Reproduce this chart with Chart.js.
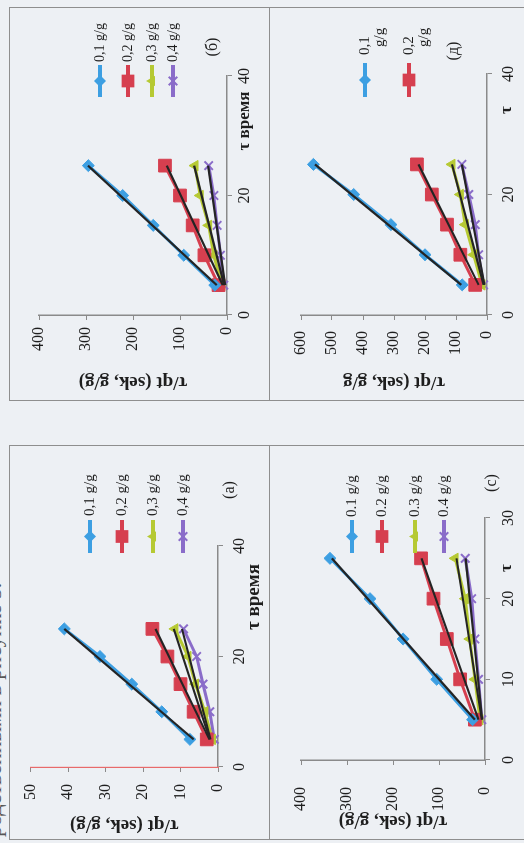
<!DOCTYPE html>
<html>
<head>
<meta charset="utf-8">
<script src="https://cdn.jsdelivr.net/npm/chart.js@4.4.1/dist/chart.umd.min.js"></script>
<style>
  html, body { margin: 0; padding: 0; background: #edf0f4; overflow: hidden; }
  /* the scan is turned on its side: lay the page out upright, then rotate it */
  #page { position: absolute; left: 0; top: 0; width: 843px; height: 524px;
          transform-origin: 0 0; transform: translate(0, 843px) rotate(-90deg); }
  .frame { position: absolute; border: 1.5px solid #8e8e8e; box-sizing: border-box; }
  canvas { position: absolute; }
  #bleed { position: absolute; left: 6px; top: -19px; font: 22px "Liberation Serif", serif; color: #555; white-space: nowrap; }
</style>
</head>
<body>
<div id="page">
  <div id="bleed">родственными в рисунке 5.</div>
  <div class="frame" style="left:3px;top:9px;width:395px;height:261px"></div>
  <div class="frame" style="left:442px;top:9px;width:394px;height:261px"></div>
  <div class="frame" style="left:3px;top:269px;width:395px;height:270px"></div>
  <div class="frame" style="left:442px;top:269px;width:394px;height:270px"></div>
  <canvas id="a" width="394" height="260" style="left:3px;top:9px"></canvas>
  <canvas id="b" width="393" height="260" style="left:442px;top:9px"></canvas>
  <canvas id="c" width="394" height="255" style="left:3px;top:269px"></canvas>
  <canvas id="d" width="393" height="255" style="left:442px;top:269px"></canvas>
</div>
<script>
const SERIF = '"Liberation Serif", "Times New Roman", serif';
Chart.defaults.font.family = SERIF;

// time points (same in all four panels)
const tau = [5, 10, 15, 20, 25];
const trendTau = [5, 25];

// panel (а)
const a01 = [7.5, 15, 23, 31.5, 41];
const a02 = [3, 6.5, 10, 13.5, 17.5];
const a03 = [1.5, 3.5, 6, 8, 11.5];
const a04 = [1, 2.2, 4, 5.7, 9.2];
const aTrend = [[6.5, 41], [2.3, 16.7], [2.2, 11.8], [2, 9.6]];

// panel (б)
const b01 = [26, 92, 157, 222, 295];
const b02 = [18, 48, 73, 100, 132];
const b03 = [11, 28, 39, 57, 68];
const b04 = [7, 14, 21, 28, 39];
const bTrend = [[22, 296], [9, 128], [6, 70], [4, 40]];

// panel (с)
const c01 = [27, 105, 178, 250, 337];
const c02 = [22, 54, 83, 112, 139];
const c03 = [11, 22, 33, 43, 65];
const c04 = [7, 14, 22, 29, 43];
const cTrend = [[22, 333], [14, 138], [7, 62], [6, 42]];

// panel (д)
const d01 = [80, 200, 310, 430, 560];
const d02 = [38, 86, 129, 178, 226];
const d03 = [16, 43, 70, 86, 113];
const d04 = [11, 27, 38, 59, 81];
const dTrend = [[83, 555], [27, 221], [11, 113], [8, 81]];

const labelsComma = [["0,1 g/g"], ["0,2 g/g"], ["0,3 g/g"], ["0,4 g/g"]];
const labelsDot = [["0.1 g/g"], ["0.2 g/g"], ["0.3 g/g"], ["0.4 g/g"]];
const labelsD = [["0,1", "g/g"], ["0,2", "g/g"]];

const seriesStyle = [
  { color: "#3d9fe2", point: "rectRot", r: 6 },
  { color: "#d63f4f", point: "rect", r: 9 },
  { color: "#b6c933", point: "triangle", r: 6 },
  { color: "#8a6cc9", point: "crossRot", r: 6 }
];

function drawMarker(ctx, style, r, x, y, color) {
  ctx.fillStyle = color;
  ctx.strokeStyle = color;
  ctx.lineWidth = 2;
  ctx.beginPath();
  if (style === "rectRot") {
    ctx.moveTo(x, y - r); ctx.lineTo(x + r, y); ctx.lineTo(x, y + r); ctx.lineTo(x - r, y);
    ctx.closePath(); ctx.fill();
  } else if (style === "rect") {
    const s = r * Math.SQRT1_2;
    ctx.rect(x - s, y - s, 2 * s, 2 * s); ctx.fill();
  } else if (style === "triangle") {
    ctx.moveTo(x, y - r);
    ctx.lineTo(x + r * 0.866, y + r * 0.5);
    ctx.lineTo(x - r * 0.866, y + r * 0.5);
    ctx.closePath(); ctx.fill();
  } else {
    const s = r * Math.SQRT1_2;
    ctx.moveTo(x - s, y - s); ctx.lineTo(x + s, y + s);
    ctx.moveTo(x + s, y - s); ctx.lineTo(x - s, y + s);
    ctx.stroke();
  }
}

// axis title, panel letter and the Excel style legend
const extras = {
  id: "extras",
  afterDraw(chart, args, o) {
    const ctx = chart.ctx;
    ctx.save();
    ctx.fillStyle = "#1e1e1e";
    ctx.textBaseline = "middle";
    ctx.textAlign = "center";
    ctx.font = "bold " + o.xTitleSize + "px " + SERIF;
    ctx.fillText(o.xTitle, o.xTitleAt[0], o.xTitleAt[1]);
    ctx.font = "16px " + SERIF;
    ctx.fillText(o.letter, o.letterAt[0], o.letterAt[1]);

    const lg = o.legend;
    o.labels.forEach((lines, i) => {
      const st = seriesStyle[i];
      const y = lg.ys[i];
      ctx.strokeStyle = st.color;
      ctx.lineWidth = 4;
      ctx.beginPath();
      ctx.moveTo(lg.line[0], y);
      ctx.lineTo(lg.line[1], y);
      ctx.stroke();
      drawMarker(ctx, st.point, st.r, (lg.line[0] + lg.line[1]) / 2, y, st.color);
      ctx.fillStyle = "#1e1e1e";
      ctx.font = lg.size + "px " + SERIF;
      ctx.textAlign = "left";
      lines.forEach((t, k) => {
        ctx.fillText(t, lg.textX + k * (lg.indent || 0), y + k * (lg.dy || 0));
      });
    });
    ctx.restore();
  }
};

function makeChart(p) {
  const datasets = [];
  p.series.forEach((vals, i) => {
    const st = seriesStyle[i];
    datasets.push({
      data: tau.map((t, k) => ({ x: t, y: vals[k] })),
      borderColor: st.color,
      backgroundColor: st.color,
      borderWidth: 3,
      pointStyle: st.point,
      pointRadius: st.r,
      pointBorderColor: st.color,
      pointBorderWidth: st.point === "crossRot" ? 2 : 1,
      order: 2,
      clip: false
    });
  });
  p.trends.forEach(tr => {
    datasets.push({
      data: trendTau.map((t, k) => ({ x: t, y: tr[k] })),
      borderColor: "#242424",
      borderWidth: 2.2,
      pointRadius: 0,
      order: 1,
      clip: false
    });
  });

  const axisGrid = { display: true, drawOnChartArea: false, drawTicks: true, tickLength: 5, color: "#8a8a8a" };
  new Chart(document.getElementById(p.id), {
    type: "line",
    data: { datasets },
    options: {
      responsive: false,
      animation: false,
      events: [],
      layout: { padding: { left: 0, top: p.area[2], right: p.w - p.area[1], bottom: 0 } },
      plugins: {
        legend: { display: false },
        tooltip: { enabled: false },
        extras: {
          xTitle: p.xTitle, xTitleAt: p.xTitleAt, xTitleSize: p.xTitleSize,
          letter: p.letter, letterAt: p.letterAt,
          labels: p.labels, legend: p.legend
        }
      },
      scales: {
        x: {
          type: "linear", min: 0, max: p.xMax,
          ticks: { stepSize: p.xStep, padding: p.xPad, color: "#1e1e1e", font: { size: 16 }, maxRotation: 0 },
          grid: axisGrid,
          border: { display: true, color: "#8a8a8a", width: 1.5 },
          afterFit: s => { s.height = p.h - p.area[3]; }
        },
        y: {
          min: 0, max: p.yMax,
          ticks: { stepSize: p.yStep, padding: p.yPad, color: "#1e1e1e", font: { size: 16 } },
          grid: axisGrid,
          border: p.redAxis
            ? { display: true, color: "#e86a6a", width: 1.2, dash: [2, 2] }
            : { display: true, color: "#8a8a8a", width: 1.5 },
          title: { display: true, text: p.yTitle, color: "#1e1e1e",
                   font: { size: 19, weight: "bold" }, padding: { top: p.yTitlePad, bottom: 0 } },
          afterFit: s => { s.width = p.area[0]; }
        }
      }
    },
    plugins: [extras]
  });
}

makeChart({
  id: "a", w: 394, h: 260, area: [73, 294, 19, 209],
  xMax: 40, xStep: 20, xPad: 7, yMax: 50, yStep: 10, yPad: 12, yTitlePad: 4, redAxis: true,
  series: [a01, a02, a03, a04], trends: aTrend,
  yTitle: "τ/qt (sek, g/g)", xTitle: "τ время", xTitleSize: 19, xTitleAt: [243, 245],
  letter: "(a)", letterAt: [350, 221],
  labels: labelsComma, legend: { line: [287, 320], textX: 324, ys: [81, 113, 144, 174], size: 15 }
});

makeChart({
  id: "b", w: 393, h: 260, area: [86, 325, 30, 218],
  xMax: 40, xStep: 20, xPad: 3, yMax: 400, yStep: 100, yPad: 7, yTitlePad: 8,
  series: [b01, b02, b03, b04], trends: bTrend,
  yTitle: "τ/qt (sek, g/g)", xTitle: "τ время", xTitleSize: 17, xTitleAt: [280, 236],
  letter: "(б)", letterAt: [354, 204],
  labels: labelsComma, legend: { line: [304, 336], textX: 339, ys: [91, 119, 143, 164], size: 14 }
});

makeChart({
  id: "c", w: 394, h: 255, area: [80, 322, 32, 216],
  xMax: 30, xStep: 10, xPad: 9, yMax: 400, yStep: 100, yPad: 22, yTitlePad: 8,
  series: [c01, c02, c03, c04], trends: cTrend,
  yTitle: "τ/qt (sek, g/g)", xTitle: "τ", xTitleSize: 17, xTitleAt: [272, 238],
  letter: "(c)", letterAt: [357, 223],
  labels: labelsDot, legend: { line: [287, 320], textX: 323, ys: [83, 113, 146, 175], size: 15 }
});

makeChart({
  id: "d", w: 393, h: 255, area: [86, 327, 32, 218],
  xMax: 40, xStep: 20, xPad: 7, yMax: 600, yStep: 100, yPad: 11, yTitlePad: 8,
  series: [d01, d02, d03, d04], trends: dTrend,
  yTitle: "τ/qt (sek, g/g", xTitle: "τ", xTitleSize: 17, xTitleAt: [291, 238],
  letter: "(д)", letterAt: [350, 185],
  labels: labelsD, legend: { line: [304, 338], textX: 346, indent: 8, dy: 15, ys: [96, 140], size: 15 }
});
</script>
</body>
</html>
